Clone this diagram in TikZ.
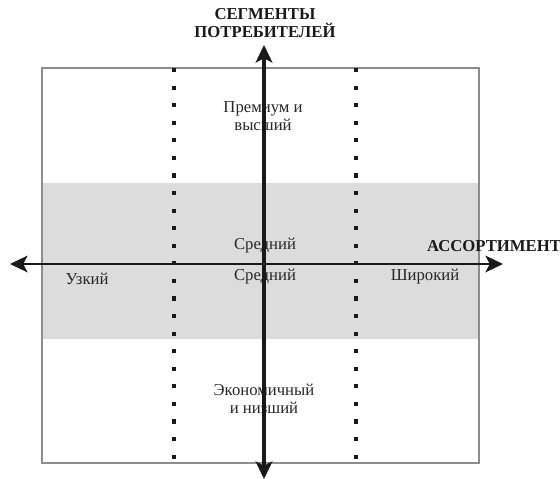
\documentclass[tikz,border=0pt]{standalone}
\usepackage{fontspec}
\setmainfont{Liberation Serif}
\usepackage{xcolor}
\usetikzlibrary{arrows.meta}

\definecolor{bandgray}{HTML}{DCDCDC}
\definecolor{framegray}{HTML}{8C8C8C}

\tikzset{
    axis/.style={draw=black!90, {Stealth[length=10pt, width=9.5pt, inset=2.5pt]}-{Stealth[length=10pt, width=9.5pt, inset=2.5pt]}},
    divider/.style={draw=black!90, line width=2.1pt, dash pattern=on 2.4pt off 7.6pt},
    label/.style={align=center, font=\fontsize{9.5}{10.5}\selectfont, text=black!85, inner sep=1pt},
    title/.style={align=center, font=\fontsize{9.5}{10}\selectfont\bfseries, text=black!90, inner sep=1pt}
}

\begin{document}
\begin{tikzpicture}[x=0.02cm, y=-0.02cm]
        \useasboundingbox (0,0) rectangle (560,479);

        \fill[bandgray] (42,183) rectangle (479,339);
        \draw[framegray, line width=0.9pt] (42,68) rectangle (479,463);

        \draw[divider] (174,68) -- (174,463);
        \draw[divider] (356,68) -- (356,463);

        \node[title] (seg) at (265,23) {СЕГМЕНТЫ\\ПОТРЕБИТЕЛЕЙ};
        \node[title] (assort) at (494,246) {АССОРТИМЕНТ};

        \node[label] (prem) at (263,116) {Премиум и\\высший};
        \node[label] (midup) at (265,246) {Средний};
        \node[label] (middown) at (265,277) {Средний};
        \node[label] (narrow) at (87,279) {Узкий};
        \node[label] (wide) at (425,277) {Широкий};
        \node[label] (econ) at (264,399) {Экономичный\\и низший};

        \coordinate (left) at (10,264);
        \coordinate (right) at (503,264);
        \coordinate (top) at (264,45);
        \coordinate (bottom) at (264,479);

        \draw[axis, line width=1.2pt] (left) -- (right);
        \draw[axis, line width=2pt] (bottom) -- (top);
    \end{tikzpicture}
\end{document}
